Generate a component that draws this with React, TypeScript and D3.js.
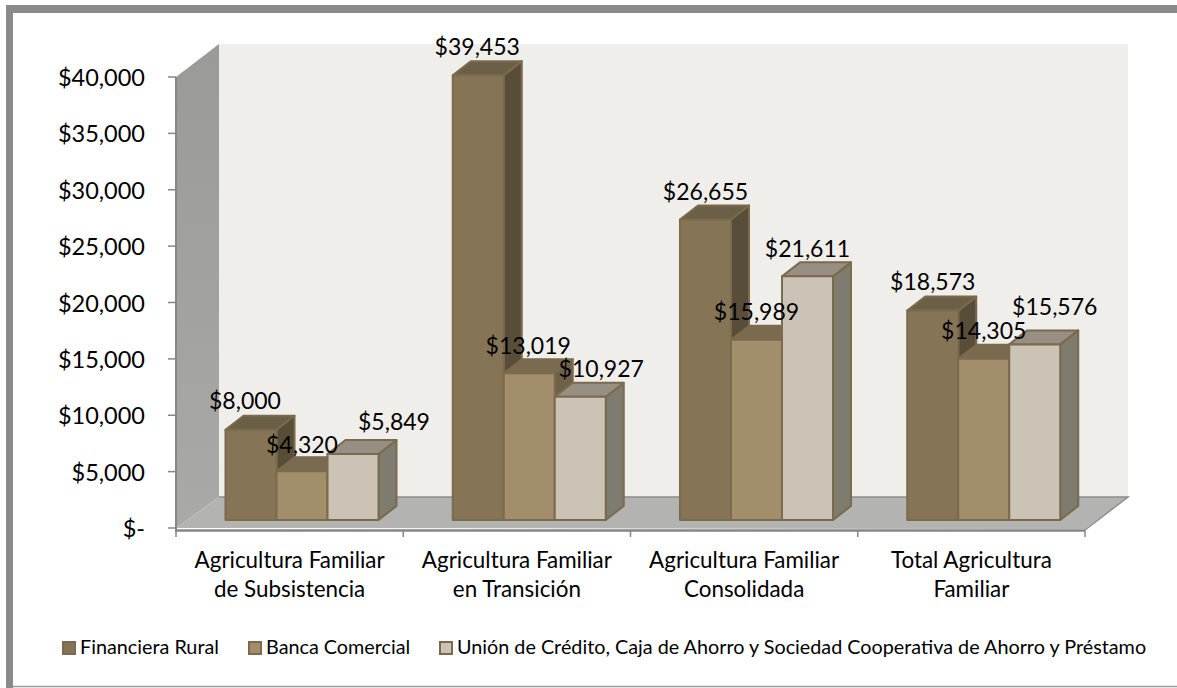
import React from "react";
import * as d3 from "d3";

const categories = [
  ["Agricultura Familiar", "de Subsistencia"],
  ["Agricultura Familiar", "en Transición"],
  ["Agricultura Familiar", "Consolidada"],
  ["Total Agricultura", "Familiar"],
];
const seriesNames = ["Financiera Rural", "Banca Comercial", "Unión de Crédito, Caja de Ahorro y Sociedad Cooperativa de Ahorro y Préstamo"];
const financiera = [8000, 39453, 26655, 18573];
const banca = [4320, 13019, 15989, 14305];
const union = [5849, 10927, 21611, 15576];
const yTicks = [0, 5000, 10000, 15000, 20000, 25000, 30000, 35000, 40000];
const seriesValues = [financiera, banca, union];

// label placement nudges (layout, by series then category)
const labelDx = [[-6, -1, 0, 0], [0, -1, 0, 0], [41, 21, 0, 20]];
const labelBase = [[409, 55, 200, 290], [453, 354, 320, 339], [430, 377, 257, 315]];

const front = ["#857556", "#a38e6c", "#cbc3b6"];
const side = ["#584d38", "#6e6149", "#7e7b6f"];
const topC = ["#6c5f47", "#7a6b50", "#988f84"];
const stroke = "#7b6a4b";
const FONT = "Lato, Carlito, sans-serif";

const fmt = (v: number) => (v === 0 ? "$-" : "$" + d3.format(",")(v));

export default function App() {
  const W = 1177, H = 688;
  const x0 = 176, x1 = 1085, yB = 528, yT = 77;
  const dX = 43;
  const wallTop = 44, floorBack = 497;
  const y = d3.scaleLinear().domain([0, 40000]).range([yB, yT]);
  const band = d3.scaleBand<number>().domain(d3.range(4)).range([x0, x1]);
  const inner = d3.scaleBand<number>().domain(d3.range(3)).range([49.5, 49.5 + 153]);
  const barBaseShift = -8;
  const bdx = 18, bdy = -14;
  const pts = (a: number[][]) => a.map((p) => p.join(",")).join(" ");

  return (
    <svg width={W} height={H} style={{ position: "absolute", left: 0, top: 0, fontFamily: FONT }}>
      <defs>
        <linearGradient id="wall" x1="0" x2="0" y1="0" y2="1">
          <stop offset="0" stopColor="#9a9a98" />
          <stop offset="1" stopColor="#a9a9a7" />
        </linearGradient>
      </defs>
      <rect x={0} y={0} width={W} height={H} fill="#fff" />
      {/* frame: thick top and left edges, thin bottom edge */}
      <rect x={6} y={5} width={W - 6} height={8} fill="#8a8a8a" />
      <rect x={6} y={5} width={7} height={H - 5} fill="#8a8a8a" />
      <line x1={13} x2={W} y1={686.5} y2={686.5} stroke="#9a9a9a" strokeWidth={1.5} />

      {/* walls and floor */}
      <rect x={x0 + dX} y={wallTop} width={x1 - x0} height={floorBack - wallTop} fill="#efeeea" />
      <polygon points={pts([[x0, yT], [x0 + dX, wallTop], [x0 + dX, floorBack], [x0, yB]])} fill="url(#wall)" />
      <polygon points={pts([[x0, yB], [x0 + dX, floorBack], [x1 + dX, floorBack], [x1, yB + 1]])} fill="#b3b3b1" />
      <polyline points={pts([[x0 + dX, floorBack], [x1 + dX, floorBack], [x1, yB + 2]])} fill="none" stroke="#8c8c8c" strokeWidth={1.5} />

      {/* axes */}
      <line x1={x0} x2={x0} y1={yT} y2={yB + 4} stroke="#868686" strokeWidth={2} />
      <line x1={x0 - 1} x2={x1} y1={yB + 2.5} y2={yB + 2.5} stroke="#868686" strokeWidth={2.5} />
      {yTicks.map((t) => (
        <g key={t}>
          <line x1={x0 - 8} x2={x0} y1={y(t)} y2={y(t)} stroke="#868686" strokeWidth={1.5} />
          <text x={145} y={y(t) + 9} textAnchor="end" fontSize={23.5} fill="#000">{fmt(t)}</text>
        </g>
      ))}
      {d3.range(5).map((i) => {
        const tx = i < 4 ? band(i)! : x1;
        return <line key={i} x1={tx} x2={tx} y1={yB + 2} y2={yB + 9} stroke="#868686" strokeWidth={1.5} />;
      })}
      {categories.map((c, i) => (
        <text key={i} textAnchor="middle" fontSize={22.4} fill="#000">
          {c.map((l, j) => (
            <tspan key={j} x={band(i)! + band.bandwidth() / 2} y={568 + j * 29}>{l}</tspan>
          ))}
        </text>
      ))}

      {/* bars */}
      {categories.map((_, i) => (
        <g key={i}>
          {seriesValues.map((vals, s) => {
            const v = vals[i];
            const xa = band(i)! + inner(s)!;
            const xb = xa + inner.bandwidth();
            const yt = y(v) + barBaseShift;
            const yb = y(0) + barBaseShift;
            return (
              <g key={s} stroke={stroke} strokeWidth={2} strokeLinejoin="round">
                <polygon points={pts([[xb, yt], [xb + bdx, yt + bdy], [xb + bdx, yb + bdy], [xb, yb]])} fill={side[s]} />
                <polygon points={pts([[xa, yt], [xa + bdx, yt + bdy], [xb + bdx, yt + bdy], [xb, yt]])} fill={topC[s]} />
                <rect x={xa} y={yt} width={xb - xa} height={yb - yt} fill={front[s]} />
              </g>
            );
          })}
        </g>
      ))}
      {categories.map((_, i) =>
        seriesValues.map((vals, s) => (
          <text
            key={`${i}-${s}`}
            x={band(i)! + inner(s)! + inner.bandwidth() / 2 + labelDx[s][i]}
            y={labelBase[s][i]}
            textAnchor="middle"
            fontSize={23}
            fill="#000"
          >
            {fmt(vals[i])}
          </text>
        ))
      )}

      {/* legend */}
      {[62, 248, 439].map((lx, s) => (
        <g key={s}>
          <rect x={lx + 1} y={642} width={12} height={12} fill={front[s]} stroke={stroke} strokeWidth={2} />
          <text x={lx + 18} y={654} fontSize={19.8} fill="#000">{seriesNames[s]}</text>
        </g>
      ))}
    </svg>
  );
}
